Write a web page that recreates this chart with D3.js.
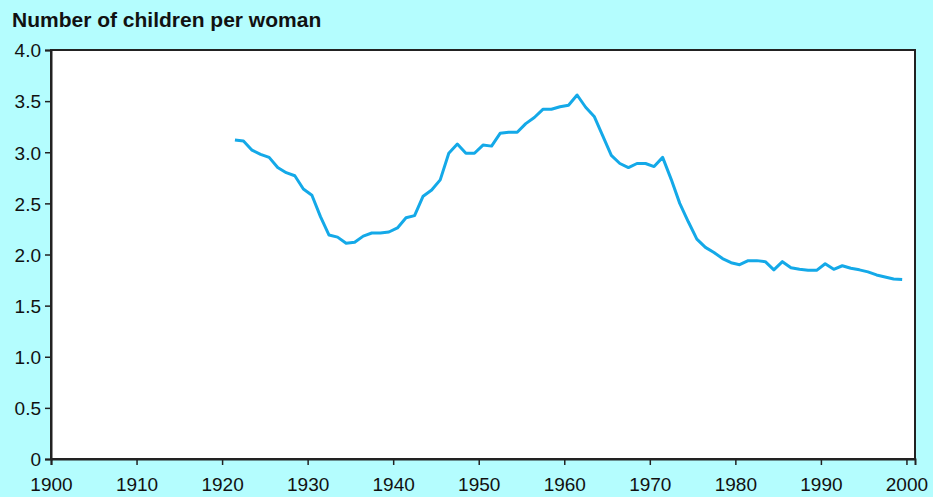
<!DOCTYPE html>
<html>
<head>
  <meta charset="utf-8">
  <title>Number of children per woman</title>
  <script src="https://d3js.org/d3.v7.min.js"></script>
  <style>
    body {
      margin: 0;
      background: #b4fdfe;
    }
    svg text {
      font-family: "Liberation Sans", Arial, sans-serif;
      fill: #111;
    }
    .title {
      font-size: 21px;
      font-weight: bold;
    }
    .tick text {
      font-size: 19px;
    }
  </style>
</head>
<body>
  <svg width="933" height="497"></svg>
  <script>
    // first year of the series, one value per year (plotted mid-year)
    const startYear = 1921;
    const tfr = [
      3.12, 3.11, 3.02, 2.98, 2.95, 2.85, 2.80, 2.77, 2.64, 2.58,
      2.37, 2.19, 2.17, 2.11, 2.12, 2.18, 2.21, 2.21, 2.22, 2.26,
      2.36, 2.38, 2.57, 2.63, 2.73, 2.99, 3.08, 2.99, 2.99, 3.07,
      3.06, 3.185, 3.195, 3.195, 3.28, 3.34, 3.42, 3.42, 3.445, 3.46,
      3.56, 3.44, 3.35, 3.16, 2.97, 2.89, 2.85, 2.89, 2.89, 2.86,
      2.95, 2.735, 2.50, 2.32, 2.15, 2.07, 2.02, 1.96, 1.92, 1.90,
      1.94, 1.94, 1.93, 1.85, 1.93, 1.87, 1.855, 1.845, 1.845, 1.91,
      1.855, 1.89, 1.865, 1.85, 1.83, 1.80, 1.78, 1.76, 1.755
    ];
    const xTicks = [1900, 1910, 1920, 1930, 1940, 1950, 1960, 1970, 1980, 1990, 2000];
    const yTicks = [0, 0.5, 1.0, 1.5, 2.0, 2.5, 3.0, 3.5, 4.0];

    const data = tfr.map((v, i) => ({ year: startYear + i, value: v }));

    const svg = d3.select("svg");
    const margin = { top: 50, right: 18, bottom: 38, left: 51 };
    const width = 933 - margin.left - margin.right;
    const height = 497 - margin.top - margin.bottom;

    const x = d3.scaleLinear().domain([1900, 2001]).range([0, width]);
    const y = d3.scaleLinear().domain([0, 4]).range([height, 0]);

    svg.append("text")
      .attr("class", "title")
      .attr("x", 12)
      .attr("y", 27)
      .text("Number of children per woman");

    const g = svg.append("g")
      .attr("transform", `translate(${margin.left},${margin.top})`);

    g.append("rect")
      .attr("width", width)
      .attr("height", height)
      .attr("fill", "#fff")
      .attr("stroke", "#222")
      .attr("stroke-width", 2);

    const xAxis = g.append("g")
      .attr("transform", `translate(0,${height})`)
      .call(d3.axisBottom(x).tickValues(xTicks).tickFormat(d3.format("d"))
        .tickSizeOuter(0).tickSize(6).tickPadding(13));

    const yAxis = g.append("g")
      .call(d3.axisLeft(y).tickValues(yTicks)
        .tickFormat(d => d === 0 ? "0" : d3.format(".1f")(d))
        .tickSizeOuter(0).tickSize(6).tickPadding(4));

    [xAxis, yAxis].forEach(a => {
      a.select(".domain").attr("stroke", "#222").attr("stroke-width", 2);
      a.selectAll(".tick line").attr("stroke", "#222").attr("stroke-width", 1.5);
      a.selectAll(".tick text").attr("fill", "#111");
    });
    yAxis.selectAll(".tick text").attr("dy", "0.36em");

    const line = d3.line()
      .x(d => x(d.year + 0.5))
      .y(d => y(d.value));

    g.append("path")
      .datum(data)
      .attr("fill", "none")
      .attr("stroke", "#14a9e8")
      .attr("stroke-width", 3)
      .attr("stroke-linejoin", "round")
      .attr("d", line);
  </script>
</body>
</html>
